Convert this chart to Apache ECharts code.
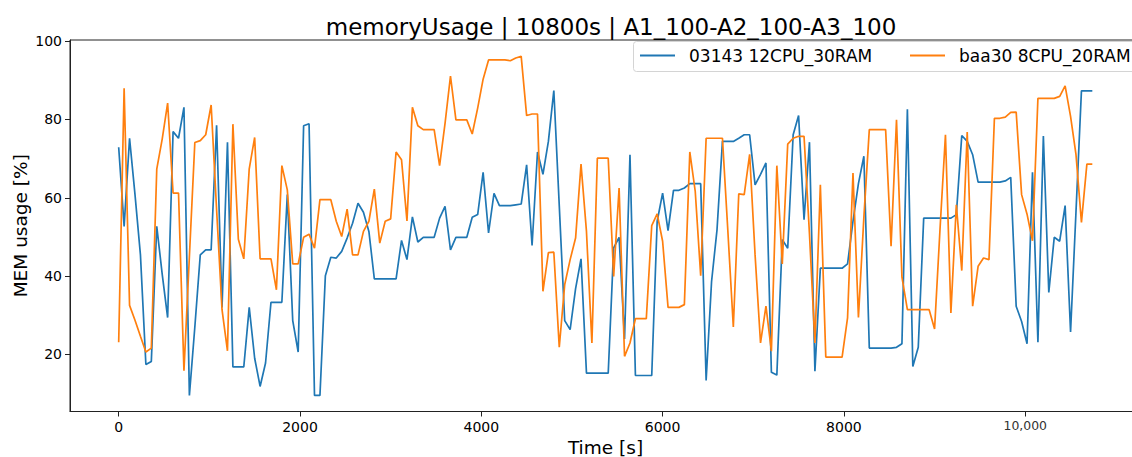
<!DOCTYPE html>
<html>
<head>
<meta charset="utf-8">
<title>memoryUsage</title>
<script src="https://cdn.jsdelivr.net/npm/echarts@6/dist/echarts.min.js"></script>
<style>
  html, body { margin: 0; padding: 0; background: #ffffff; }
  #chart { width: 1132px; height: 457px; }
</style>
</head>
<body>
<div id="chart"></div>
<script>
// Memory usage (%) of two hosts, sampled every 60 s over the run.
const SAMPLE_STEP_S = 60;

const seriesNames = ['03143 12CPU_30RAM', 'baa30 8CPU_20RAM'];

const mem03143 = [
  72.9, 52.7, 75.2, 60.8, 45.4, 17.4, 18.2, 52.7, 40.5, 29.4,
  76.9, 75.2, 83.1, 9.5, 27.0, 45.4, 46.7, 46.7, 78.5, 32.0,
  74.2, 16.8, 16.8, 16.8, 32.0, 19.0, 11.8, 17.8, 33.3, 33.3,
  33.3, 60.8, 28.6, 20.6, 78.4, 78.9, 9.5, 9.5, 40.1, 44.8,
  44.6, 46.3, 49.7, 53.5, 58.6, 56.3, 51.4, 39.3, 39.3, 39.3,
  39.3, 39.3, 49.1, 44.2, 55.1, 48.7, 49.9, 49.9, 49.9, 54.8,
  57.8, 46.7, 49.9, 49.9, 49.9, 55.0, 55.7, 66.5, 51.0, 61.1,
  58.0, 58.0, 58.0, 58.2, 58.4, 68.4, 47.8, 71.7, 66.0, 74.4,
  87.4, 58.0, 28.6, 26.3, 36.8, 44.4, 15.2, 15.2, 15.2, 15.2,
  15.2, 47.2, 49.9, 23.9, 71.0, 14.6, 14.6, 14.6, 14.6, 54.0,
  61.2, 51.6, 61.9, 61.9, 62.5, 63.6, 63.6, 63.6, 13.3, 38.6,
  51.8, 74.4, 74.4, 74.4, 75.2, 76.1, 76.1, 63.3, 66.0, 68.9,
  15.4, 14.7, 49.3, 47.1, 76.1, 81.0, 54.4, 74.2, 15.7, 42.0,
  42.0, 42.0, 42.0, 42.0, 43.1, 54.0, 63.6, 70.6, 21.6, 21.6,
  21.6, 21.6, 21.6, 21.8, 22.7, 82.6, 16.9, 21.8, 54.8, 54.8,
  54.8, 54.8, 54.8, 54.8, 55.7, 75.9, 74.4, 71.0, 64.0, 64.0,
  64.0, 64.0, 64.0, 64.3, 65.2, 32.3, 28.4, 22.7, 66.5, 23.1,
  75.8, 35.8, 49.9, 48.9, 58.0, 25.7, 56.5, 87.3, 87.3, 87.3
];

const memBaa30 = [
  23.1, 88.0, 32.5, 28.7, 24.6, 20.6, 21.6, 67.3, 75.0, 84.2,
  61.2, 61.2, 15.8, 45.0, 74.1, 74.6, 76.1, 83.7, 57.0, 31.4,
  20.9, 78.8, 49.4, 44.4, 67.4, 75.4, 44.4, 44.4, 44.4, 36.5,
  68.2, 62.0, 43.1, 43.1, 49.9, 50.7, 47.1, 59.5, 59.5, 59.5,
  54.0, 50.1, 57.1, 45.4, 45.4, 51.4, 54.0, 62.2, 48.4, 54.0,
  54.6, 71.7, 69.7, 54.1, 83.1, 78.4, 77.4, 77.4, 77.4, 68.2,
  79.0, 91.1, 79.9, 79.9, 79.9, 76.3, 82.9, 90.3, 95.2, 95.2,
  95.2, 95.2, 95.0, 95.7, 96.1, 81.0, 81.4, 81.4, 36.1, 46.0,
  46.1, 21.8, 37.8, 44.2, 49.7, 68.6, 51.4, 22.9, 70.1, 70.1,
  70.1, 39.9, 62.5, 19.5, 22.9, 29.1, 29.1, 29.1, 52.9, 55.9,
  48.9, 32.0, 32.0, 32.0, 32.7, 71.7, 61.6, 40.1, 75.2, 75.2,
  75.2, 75.2, 51.4, 27.0, 61.0, 60.8, 71.1, 45.4, 22.9, 32.3,
  20.8, 68.2, 43.1, 73.7, 75.2, 75.7, 75.7, 50.7, 22.9, 63.3,
  19.3, 19.3, 19.3, 19.3, 29.3, 66.3, 29.4, 55.0, 77.4, 77.4,
  77.4, 77.4, 47.6, 79.9, 39.7, 31.4, 31.4, 31.4, 31.4, 31.4,
  26.5, 52.0, 76.1, 30.6, 58.2, 41.4, 76.8, 32.3, 42.5, 44.6,
  44.2, 80.3, 80.3, 80.6, 81.8, 81.9, 60.8, 55.8, 49.0, 85.4,
  85.4, 85.4, 85.4, 85.9, 88.6, 80.8, 71.0, 53.7, 68.6, 68.6
];

const xTicks = [0, 2000, 4000, 6000, 8000, 10000];
const xTickLabels = ['0', '2000', '4000', '6000', '8000', '10,000'];
const yTicks = [20, 40, 60, 80, 100];

const timeS = mem03143.map((_, i) => i * SAMPLE_STEP_S);
const pairs = vals => vals.map((v, i) => [timeS[i], v]);

const FONT = 'DejaVu Sans';
const chart = echarts.init(document.getElementById('chart'), null, { renderer: 'svg' });

// One legend entry per box slot so the row never wraps at the page edge.
const legendItem = (name, left) => ({
  data: [name],
  left: left,
  top: 47,
  orient: 'horizontal',
  icon: 'rect',
  itemWidth: 35,
  itemHeight: 2,
  padding: 0,
  z: 10,
  selectedMode: false,
  textStyle: { fontFamily: FONT, fontSize: 17, color: '#000', padding: [0, 0, 0, 9] }
});

chart.setOption({
  animation: false,
  backgroundColor: '#ffffff',
  textStyle: { fontFamily: FONT },
  title: {
    text: 'memoryUsage | 10800s | A1_100-A2_100-A3_100',
    left: 606,
    top: 10,
    textAlign: 'center',
    textStyle: { fontFamily: FONT, fontSize: 23, fontWeight: 'normal', color: '#000' }
  },
  graphic: [
    {
      type: 'rect',
      z: 5,
      shape: { x: 633.5, y: 41.5, width: 520, height: 30, r: 3 },
      style: { fill: 'rgba(255,255,255,0.8)', stroke: '#d4d4d4', lineWidth: 1 }
    }
  ],
  legend: [
    legendItem(seriesNames[0], 640),
    legendItem(seriesNames[1], 910)
  ],
  grid: {
    left: 70,
    top: 40,
    right: -9,
    bottom: 45.5,
    outerBoundsMode: 'none',
    containLabel: false,
    show: true,
    borderColor: '#222',
    borderWidth: 1,
    backgroundColor: 'transparent'
  },
  xAxis: {
    type: 'value',
    min: -537,
    max: 11277,
    name: 'Time [s]',
    nameLocation: 'middle',
    nameGap: 26,
    nameTextStyle: { fontFamily: FONT, fontSize: 18.5, color: '#000' },
    axisLine: { show: true, onZero: false, lineStyle: { color: '#222', width: 1 } },
    axisTick: { show: true, length: 5, customValues: xTicks, lineStyle: { color: '#222' } },
    axisLabel: {
      customValues: xTicks,
      margin: 8,
      formatter: v => {
        const s = xTickLabels[xTicks.indexOf(v)];
        return v >= 10000 ? '{small|' + s + '}' : '{n|' + s + '}';
      },
      rich: {
        n: { fontFamily: FONT, fontSize: 14, color: '#000' },
        small: { fontFamily: FONT, fontSize: 12.4, color: '#333' }
      }
    },
    splitLine: { show: false }
  },
  yAxis: {
    type: 'value',
    min: 5.4,
    max: 100.3,
    name: 'MEM usage [%]',
    nameLocation: 'middle',
    nameGap: 40,
    nameMoveOverlap: false,
    nameTextStyle: { fontFamily: FONT, fontSize: 18.5, color: '#000' },
    axisLine: { show: true, onZero: false, lineStyle: { color: '#222', width: 1 } },
    axisTick: { show: true, length: 5, customValues: yTicks, lineStyle: { color: '#222' } },
    axisLabel: {
      customValues: yTicks,
      margin: 8,
      fontFamily: FONT,
      fontSize: 14,
      color: '#000'
    },
    splitLine: { show: false }
  },
  series: [
    {
      name: seriesNames[0],
      type: 'line',
      data: pairs(mem03143),
      showSymbol: false,
      symbol: 'none',
      color: '#1f77b4',
      lineStyle: { color: '#1f77b4', width: 1.7 },
      z: 2
    },
    {
      name: seriesNames[1],
      type: 'line',
      data: pairs(memBaa30),
      showSymbol: false,
      symbol: 'none',
      color: '#ff7f0e',
      lineStyle: { color: '#ff7f0e', width: 1.7 },
      z: 3
    }
  ]
});
</script>
</body>
</html>
